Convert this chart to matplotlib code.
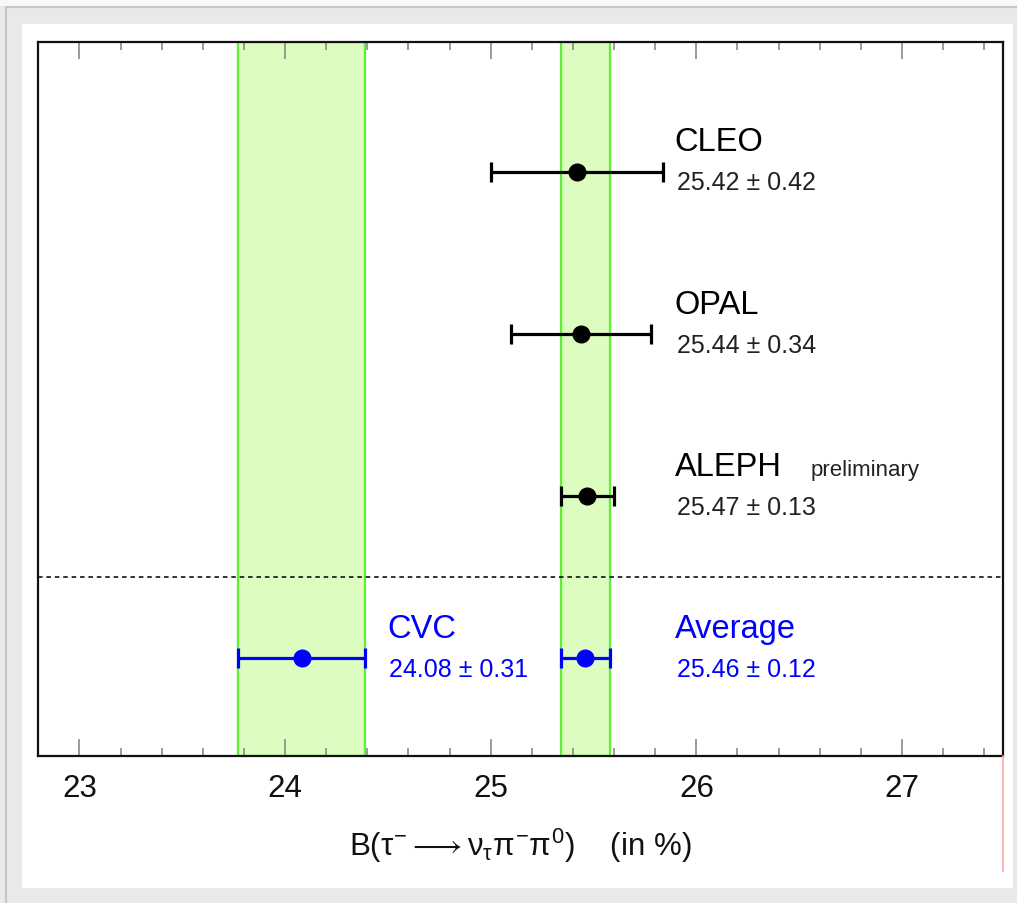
import matplotlib
matplotlib.use("Agg")
import matplotlib.pyplot as plt
from matplotlib.lines import Line2D
from matplotlib.patches import Rectangle

# Branching ratio measurements B(tau -> nu pi pi0), in percent
experiments = ["CLEO", "OPAL", "ALEPH"]
exp_values = [25.42, 25.44, 25.47]
exp_errors = [0.42, 0.34, 0.13]
exp_rows = [4, 3, 2]
exp_notes = ["", "", "preliminary"]

cvc_label = "CVC"
cvc_value, cvc_error = 24.08, 0.31
avg_label = "Average"
avg_value, avg_error = 25.46, 0.12
bottom_row = 1

major_ticks = [23, 24, 25, 26, 27]

plt.rcParams["font.family"] = ["Liberation Sans", "DejaVu Sans"]
plt.rcParams["mathtext.fontset"] = "custom"
plt.rcParams["mathtext.rm"] = "Liberation Sans"
plt.rcParams["mathtext.it"] = "Liberation Sans"
plt.rcParams["mathtext.bf"] = "Liberation Sans:bold"

W, H = 1017, 904
fig = plt.figure(figsize=(W / 100, H / 100), dpi=100)
fig.patch.set_facecolor("#e9e9e9")

def px_x(x):
    return x / W

def px_y(y):
    return 1 - y / H

# page frame
fig.patches.append(Rectangle((0, px_y(7)), 1, 7 / H, transform=fig.transFigure,
                             facecolor="#f8f8f8", edgecolor="none", zorder=-3))
fig.lines.append(Line2D([px_x(6), 1], [px_y(8), px_y(8)], transform=fig.transFigure,
                        color="#c6c6c6", lw=1.5, zorder=-2))
fig.lines.append(Line2D([px_x(6), px_x(6)], [px_y(8), 0], transform=fig.transFigure,
                        color="#c6c6c6", lw=1.5, zorder=-2))
fig.patches.append(Rectangle((px_x(22), px_y(889)), px_x(1013) - px_x(22), px_y(25) - px_y(889),
                             transform=fig.transFigure, facecolor="white",
                             edgecolor="none", zorder=-1))

ax_l, ax_r, ax_t, ax_b = 38.3, 1002.7, 42.7, 756.7
ax = fig.add_axes([px_x(ax_l), px_y(ax_b), px_x(ax_r) - px_x(ax_l), px_y(ax_t) - px_y(ax_b)])
ax.set_xlim(22.8, 27.49)
ax.set_ylim(0.4, 4.8)

band_face = "#dcfcc0"
band_edge = "#5cf032"
for v, e in [(cvc_value, cvc_error), (avg_value, avg_error)]:
    ax.axvspan(v - e, v + e, facecolor=band_face, edgecolor=band_edge, lw=1.6, zorder=0)

ax.axhline((exp_rows[-1] + bottom_row) / 2, color="black", lw=1.1, ls=(0, (3, 2.5)), zorder=1)

eb_kw = dict(fmt="o", ms=12, elinewidth=2.3, capsize=7, capthick=2.3, zorder=3)
ax.errorbar(exp_values, exp_rows, xerr=exp_errors, color="black", **eb_kw)
ax.errorbar([cvc_value, avg_value], [bottom_row, bottom_row],
            xerr=[cvc_error, avg_error], color="#0000ff", **eb_kw)

name_fs, num_fs = 23.5, 18


def value_text(v, e):
    return f"{v:.2f} \u00b1 {e:.2f}"


name_dy, num_dy = 0.13, -0.11
for name, v, e, r, note in zip(experiments, exp_values, exp_errors, exp_rows, exp_notes):
    ax.text(25.895, r + name_dy, name, fontsize=name_fs, color="black", va="baseline")
    ax.text(25.905, r + num_dy, value_text(v, e), fontsize=num_fs, color="#222222",
            va="baseline")
    if note:
        ax.text(26.555, r + name_dy, note, fontsize=16, color="#222222", va="baseline")

blue = "#0000ff"
ax.text(24.50, bottom_row + name_dy, cvc_label, fontsize=name_fs, color=blue, va="baseline")
ax.text(24.505, bottom_row + num_dy, value_text(cvc_value, cvc_error),
        fontsize=num_fs, color=blue, va="baseline")
ax.text(25.895, bottom_row + name_dy, avg_label, fontsize=name_fs, color=blue, va="baseline")
ax.text(25.905, bottom_row + num_dy, value_text(avg_value, avg_error),
        fontsize=num_fs, color=blue, va="baseline")

ax.set_xticks(major_ticks)
ax.set_xticks([x / 10 for x in range(228, 275, 2)], minor=True)
ax.set_yticks([])
ax.tick_params(which="both", axis="x", direction="in", top=True, bottom=True,
               color="#8a8a8a", width=1.2, labelsize=22.5, pad=12.5, labelcolor="#111111")
ax.tick_params(which="major", axis="x", length=12)
ax.tick_params(which="minor", axis="x", length=6)
for s in ax.spines.values():
    s.set_linewidth(1.6)
    s.set_color("#111111")

ax.set_xlabel(r"B($\tau^{-}\longrightarrow\nu_{\tau}\pi^{-}\pi^{0}$)    (in %)",
              fontsize=22.5, color="#111111")
ax.xaxis.set_label_coords(0.5, -0.098)

fig.lines.append(Line2D([px_x(ax_r), px_x(ax_r)], [px_y(757), px_y(872)],
                        transform=fig.transFigure, color="#ffaaaa", lw=1.2))

fig.savefig("out.png", dpi=100, facecolor=fig.get_facecolor())
